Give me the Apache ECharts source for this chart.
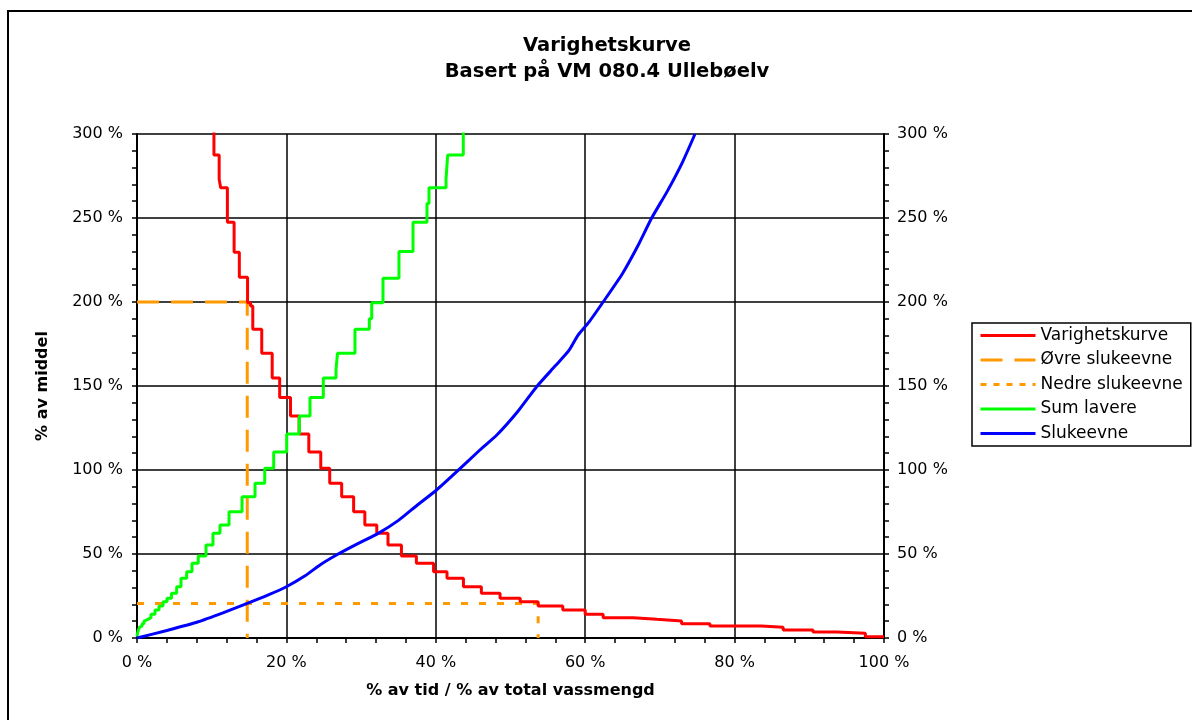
<!DOCTYPE html>
<html>
<head>
<meta charset="utf-8">
<script src="https://cdn.jsdelivr.net/npm/echarts@6/dist/echarts.min.js"></script>
<style>
  html, body { margin: 0; padding: 0; background: #fff; }
  #chart { width: 1192px; height: 720px; }
</style>
</head>
<body>
<div id="chart"></div>
<script>
// duration curve (Varighetskurve): left end of each horizontal step, % of time / % of mean
const redTime  = [10.3, 10.3, 11.0, 11.2, 12.1, 13.0, 13.7, 14.8, 15.2, 15.5, 16.7, 18.1, 19.1, 20.55, 21.7, 23.0, 24.6, 25.8, 27.4, 29.0, 30.5, 32.1, 33.6, 35.4, 37.4, 39.7, 41.5, 43.7, 46.1, 48.6, 51.3, 53.7, 57.0, 60.0, 62.4, 66.4, 69.6, 72.9, 76.7, 83.6, 86.5, 90.5, 93.7, 97.5, 100]
const redLevel = [310, 287.5, 273.0, 268.0, 247.4, 229.6, 214.7, 199.6, 197.6, 183.8, 169.5, 154.8, 143.2, 132.1, 121.4, 110.7, 101.0, 92.1, 84.1, 75.2, 67.3, 62.3, 55.4, 48.8, 44.5, 39.5, 35.5, 30.5, 26.6, 23.6, 21.6, 19.0, 16.7, 14.1, 12.1, 11.1, 10.1, 8.5, 7.1, 6.4, 4.8, 3.6, 2.8, 0.8, 0.8]

// sum of lower flows (Sum lavere): % of total volume / % of mean
const greenShare = [0, 0.07, 0.13, 0.2, 0.33, 0.47, 0.67, 0.94, 1.2, 1.47, 1.87, 2.41, 2.95, 3.48, 4.02, 4.62, 5.31, 5.89, 6.65, 7.36, 8.2, 9.24, 10.17, 11.11, 12.32, 14.06, 15.8, 17.1, 18.3, 20.04, 21.73, 23.16, 24.94, 26.64, 26.84, 29.18, 31.1, 31.42, 32.93, 35.07, 36.95, 38.82, 39.09, 41.37, 41.59, 43.68]
const greenLevel = [0.8, 2.8, 3.6, 4.8, 6.4, 7.1, 8.5, 10.1, 11.1, 12.1, 14.1, 16.7, 19.0, 21.6, 23.6, 26.6, 30.5, 35.5, 39.5, 44.5, 48.8, 55.4, 62.3, 67.3, 75.2, 84.1, 92.1, 101.0, 110.7, 121.4, 132.1, 143.2, 154.8, 159.5, 169.5, 183.8, 190.0, 199.6, 214.1, 230.0, 247.4, 258.7, 268.0, 273.0, 287.5, 310]

// capacity curve (Slukeevne)
const blueShare = [0, 4, 8.2, 11.5, 14.76, 17.5, 20, 22.5, 24.5, 26.7, 29.5, 32.3, 35, 37.5, 40.1, 42.8, 45.9, 48.2, 51, 53.5, 56, 57.8, 59, 60.5, 62.4, 65, 67, 68.9, 71, 73, 74.7]
const blueLevel = [0, 4.5, 9.7, 15, 20.6, 25.5, 30.5, 37, 43.5, 49.4, 56, 62.3, 70, 79, 88.1, 99, 111.9, 121, 135, 149.6, 162, 171, 180, 188, 200, 217, 233, 250, 266, 283, 300]

// upper / lower capacity markers
const upperTime = [0, 14.76, 14.76]
const upperLevel = [200, 200, 0]
const lowerTime = [0, 53.7, 53.7]
const lowerLevel = [20.6, 20.6, 0]

const zip = (xs, ys) => xs.map((x, i) => [x, ys[i]])

const font = 'DejaVu Sans'
const axisText = { color: '#000', fontFamily: font, fontSize: 16 }

const option = {
  animation: false,
  textStyle: { fontFamily: font },
  title: {
    text: 'Varighetskurve\nBasert på VM 080.4 Ullebøelv',
    left: 602,
    top: 28,
    textAlign: 'center',
    textStyle: { color: '#000', fontFamily: font, fontSize: 19.5, fontWeight: 'bold', lineHeight: 26 }
  },
  graphic: [{
    type: 'rect',
    shape: { x: 8, y: 11, width: 1220, height: 740 },
    style: { fill: null, stroke: '#000', lineWidth: 2 },
    silent: true
  }],
  legend: {
    orient: 'vertical',
    left: 972,
    top: 323,
    padding: [4, 8, 4, 7],
    itemWidth: 55,
    itemHeight: 14,
    itemGap: 7.5,
    borderColor: '#000',
    borderWidth: 1.5,
    itemStyle: { opacity: 0 },
    lineStyle: { width: 3 },
    textStyle: { color: '#000', fontFamily: font, fontSize: 17 },
    data: ['Varighetskurve', 'Øvre slukeevne',
      { name: 'Nedre slukeevne', lineStyle: { type: [6, 7] } },
      'Sum lavere', 'Slukeevne']
  },
  grid: { left: 137, right: 308, top: 134, bottom: 82 },
  xAxis: {
    type: 'value',
    min: 0, max: 100, interval: 20,
    name: '% av tid / % av total vassmengd',
    nameLocation: 'middle',
    nameGap: 45,
    nameTextStyle: { color: '#000', fontFamily: font, fontSize: 16, fontWeight: 'bold' },
    axisLine: { lineStyle: { color: '#000', width: 2 } },
    axisTick: { length: 5, lineStyle: { color: '#000', width: 1.5 } },
    minorTick: { show: true, splitNumber: 5, length: 5, lineStyle: { color: '#000', width: 1.5 } },
    axisLabel: Object.assign({ margin: 17, formatter: '{value} %' }, axisText),
    splitLine: { lineStyle: { color: '#000', width: 1.5 } }
  },
  yAxis: [{
    type: 'value',
    min: 0, max: 300, interval: 50,
    name: '% av middel',
    nameLocation: 'middle',
    nameGap: 86,
    nameTextStyle: { color: '#000', fontFamily: font, fontSize: 16, fontWeight: 'bold' },
    axisLine: { show: true, lineStyle: { color: '#000', width: 2 } },
    axisTick: { show: true, length: 5, lineStyle: { color: '#000', width: 1.5 } },
    minorTick: { show: true, splitNumber: 5, length: 5, lineStyle: { color: '#000', width: 1.5 } },
    axisLabel: Object.assign({ margin: 14, formatter: '{value} %' }, axisText),
    splitLine: { lineStyle: { color: '#000', width: 1.5 } }
  }, {
    type: 'value',
    position: 'right',
    min: 0, max: 300, interval: 50,
    axisLine: { show: true, lineStyle: { color: '#000', width: 2 } },
    axisTick: { show: true, length: 5, lineStyle: { color: '#000', width: 1.5 } },
    minorTick: { show: true, splitNumber: 5, length: 5, lineStyle: { color: '#000', width: 1.5 } },
    axisLabel: Object.assign({ margin: 13, formatter: '{value} %' }, axisText),
    splitLine: { show: false }
  }],
  series: [{
    name: 'Varighetskurve',
    type: 'line',
    step: 'end',
    symbol: 'none',
    color: '#ff0000',
    lineStyle: { width: 3 },
    data: zip(redTime, redLevel),
    z: 4
  }, {
    name: 'Øvre slukeevne',
    type: 'line',
    symbol: 'none',
    color: '#ff9900',
    lineStyle: { width: 3, type: [22, 12] },
    data: zip(upperTime, upperLevel),
    z: 3
  }, {
    name: 'Nedre slukeevne',
    type: 'line',
    symbol: 'none',
    color: '#ff9900',
    lineStyle: { width: 3, type: [7, 11] },
    data: zip(lowerTime, lowerLevel),
    z: 3
  }, {
    name: 'Sum lavere',
    type: 'line',
    step: 'end',
    symbol: 'none',
    color: '#00ff00',
    lineStyle: { width: 3 },
    data: zip(greenShare, greenLevel),
    z: 4
  }, {
    name: 'Slukeevne',
    type: 'line',
    symbol: 'none',
    smooth: 0.2,
    color: '#0000ff',
    lineStyle: { width: 3 },
    data: zip(blueShare, blueLevel),
    z: 4
  }]
}

const myChart = echarts.init(document.getElementById('chart'))
myChart.setOption(option)
window.addEventListener('resize', () => { myChart.resize() })
</script>
</body>
</html>
